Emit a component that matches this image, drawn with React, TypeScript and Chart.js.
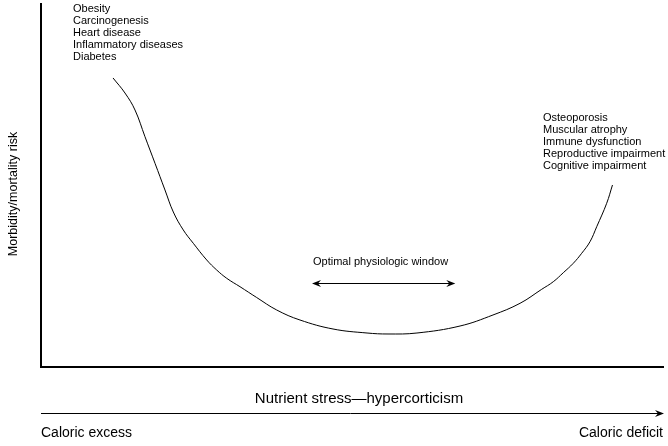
import React, { useEffect, useRef } from "react";
import { Chart, registerables } from "chart.js";

Chart.register(...registerables);

const curveX = [11.56, 13.48, 15.09, 16.69, 18.3, 19.9, 21.24, 22.84, 24.45, 26.6, 28.2, 29.81, 31.94, 34.62, 37.83, 41.57, 46.87, 52.33, 55.7, 60.35, 67.26, 72.55, 76.89, 80.37, 82.23, 83.84, 85.44, 86.79, 88.12, 89.2, 90.8, 91.73];
const curveY = [79.4, 75.27, 70.6, 63.27, 55.96, 48.63, 42.58, 37.64, 33.98, 29.4, 26.65, 24.37, 22.06, 19.09, 15.66, 12.91, 10.44, 9.34, 9.07, 9.34, 11.26, 14.29, 17.5, 21.35, 23.43, 25.91, 28.49, 31.24, 34.42, 38.54, 44.97, 50.0];

const excessRisks = ["Obesity", "Carcinogenesis", "Heart disease", "Inflammatory diseases", "Diabetes"];
const deficitRisks = ["Osteoporosis", "Muscular atrophy", "Immune dysfunction", "Reproductive impairment", "Cognitive impairment"];
const yTitle = "Morbidity/mortality risk";
const xTitle = "Nutrient stress\u2014hypercorticism";
const leftEnd = "Caloric excess";
const rightEnd = "Caloric deficit";
const windowLabel = "Optimal physiologic window";
const windowRange = [43.5, 66.5];

const FONT = "'Liberation Sans', Arial, sans-serif";

function arrowHead(ctx: CanvasRenderingContext2D, x: number, y: number, dir: number) {
  ctx.beginPath();
  ctx.moveTo(x, y);
  ctx.lineTo(x - dir * 9, y - 3.5);
  ctx.lineTo(x - dir * 6, y);
  ctx.lineTo(x - dir * 9, y + 3.5);
  ctx.closePath();
  ctx.fill();
}

const decorPlugin = {
  id: "decor",
  afterDraw(chart: any) {
    const ctx: CanvasRenderingContext2D = chart.ctx;
    const { left, right, top, bottom } = chart.chartArea;
    const xs = chart.scales.x;
    ctx.save();
    ctx.fillStyle = "#000";
    ctx.strokeStyle = "#000";
    // axes
    ctx.lineWidth = 2;
    ctx.beginPath();
    ctx.moveTo(left, top);
    ctx.lineTo(left, bottom);
    ctx.lineTo(right, bottom);
    ctx.stroke();

    // lists
    ctx.font = `11px ${FONT}`;
    ctx.textAlign = "left";
    ctx.textBaseline = "middle";
    excessRisks.forEach((t, i) => ctx.fillText(t, 73, 9 + i * 12));
    deficitRisks.forEach((t, i) => ctx.fillText(t, 543, 118 + i * 12));

    // window
    ctx.fillText(windowLabel, 313, 262);
    const wx1 = xs.getPixelForValue(windowRange[0]);
    const wx2 = xs.getPixelForValue(windowRange[1]);
    ctx.lineWidth = 1;
    ctx.beginPath();
    ctx.moveTo(wx1 + 3, 283.5);
    ctx.lineTo(wx2 - 3, 283.5);
    ctx.stroke();
    arrowHead(ctx, wx1, 283.5, -1);
    arrowHead(ctx, wx2, 283.5, 1);

    // y title
    ctx.save();
    ctx.font = `12.5px ${FONT}`;
    ctx.translate(14, 194);
    ctx.rotate(-Math.PI / 2);
    ctx.textAlign = "center";
    ctx.fillText(yTitle, 0, 0);
    ctx.restore();

    // x title & arrow
    ctx.font = `15px ${FONT}`;
    ctx.textAlign = "center";
    ctx.fillText(xTitle, 359, 399);
    ctx.lineWidth = 1;
    ctx.beginPath();
    ctx.moveTo(left, 413.5);
    ctx.lineTo(right - 4, 413.5);
    ctx.stroke();
    arrowHead(ctx, right, 413.5, 1);
    ctx.font = `14px ${FONT}`;
    ctx.textAlign = "left";
    ctx.fillText(leftEnd, left, 433);
    ctx.textAlign = "right";
    ctx.fillText(rightEnd, right - 1, 433);
    ctx.restore();
  },
};

export default function App() {
  const ref = useRef<HTMLCanvasElement>(null);
  useEffect(() => {
    if (!ref.current) return;
    const chart = new Chart(ref.current, {
      type: "line",
      data: {
        datasets: [
          {
            data: curveX.map((x, i) => ({ x, y: curveY[i] })),
            borderColor: "#000",
            borderWidth: 1,
            pointRadius: 0,
            tension: 0.4,
            fill: false,
          },
        ],
      },
      options: {
        responsive: false,
        animation: false,
        layout: { padding: { left: 41, right: 4, top: 3, bottom: 79 } },
        plugins: { legend: { display: false }, tooltip: { enabled: false } },
        scales: {
          x: { type: "linear", min: 0, max: 100, display: false },
          y: { type: "linear", min: 0, max: 100, display: false },
        },
      },
      plugins: [decorPlugin],
    });
    return () => chart.destroy();
  }, []);
  return (
    <div style={{ position: "fixed", left: 0, top: 0, width: 668, height: 446, background: "#fff" }}>
      <canvas ref={ref} width={668} height={446} />
    </div>
  );
}
